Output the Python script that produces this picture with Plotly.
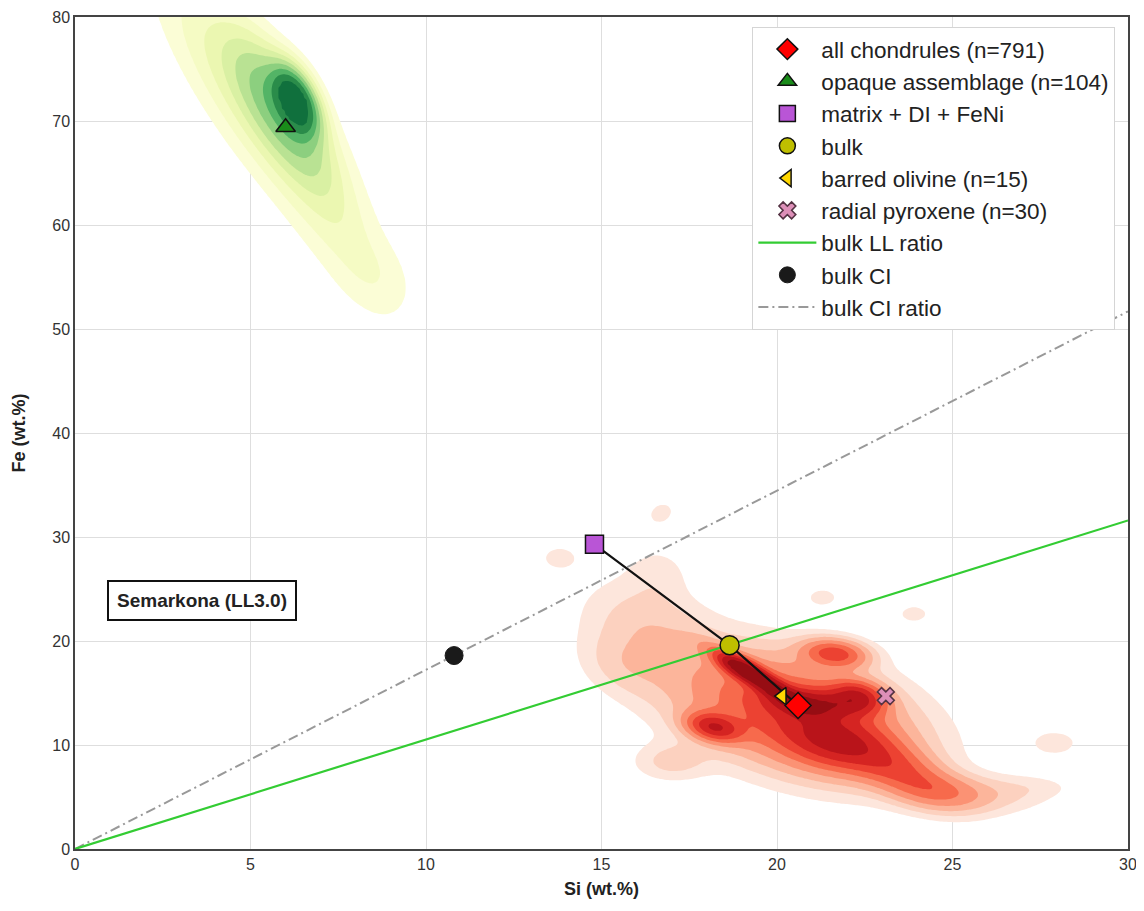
import numpy as np
import plotly.graph_objects as go

# ---------------- data ----------------
# point summaries: Si (wt.%), Fe (wt.%)
point_names = ["all chondrules (n=791)", "opaque assemblage (n=104)", "matrix + DI + FeNi",
               "bulk", "barred olivine (n=15)", "radial pyroxene (n=30)"]
point_si = [20.6, 6.0, 14.8, 18.65, 20.15, 23.1]
point_fe = [13.8, 69.4, 29.3, 19.6, 14.7, 14.7]

bulk_ci_si = [10.8]
bulk_ci_fe = [18.6]

# mixing line: matrix -> bulk -> chondrules
mix_si = [14.8, 18.65, 20.6]
mix_fe = [29.3, 19.6, 13.8]

# Fe/Si ratio lines through the origin
ll_ratio = 1.053
ci_ratio = 1.723
ratio_si = [0, 30]

# estimated density blobs of the chondrule KDE (centre Si, centre Fe, sd Si, sd Fe, corr, weight)
chd_cx = [19.5, 21.0, 22.3, 18.2, 21.65, 20.5, 21.7, 23.5, 24.7, 16.4, 17.0, 26.0, 27.4, 27.9, 13.8, 16.7, 21.3, 23.9, 15.6, 16.6, 18.9]
chd_cy = [16.3, 14.0, 14.6, 11.7, 18.8, 13.0, 10.2, 7.6, 5.4, 21.0, 8.4, 5.4, 6.0, 10.2, 28.0, 32.3, 24.2, 22.6, 17.5, 26.5, 17.6]
chd_sx = [0.75, 0.8, 0.5, 0.5, 0.6, 2.0, 1.0, 1.0, 0.9, 1.2, 0.7, 1.1, 0.8, 0.5, 0.45, 0.35, 0.4, 0.4, 0.8, 0.6, 0.4]
chd_sy = [1.6, 0.9, 1.0, 0.9, 0.9, 3.6, 1.8, 2.0, 1.2, 3.0, 1.2, 1.2, 0.8, 0.9, 1.0, 1.0, 0.8, 0.8, 2.0, 1.8, 0.8]
chd_rho = [-0.9, -0.3, -0.2, -0.3, -0.2, -0.4, -0.3, -0.6, -0.3, -0.3, 0.0, -0.2, 0.0, 0.0, 0.0, 0.2, 0.0, 0.0, -0.3, 0.0, -0.5]
chd_w = [1.0, 0.55, 0.6, 0.6, 0.45, 0.5, 0.45, 0.32, 0.17, 0.1, 0.08, 0.07, 0.03, 0.05, 0.04, 0.04, 0.04, 0.04, 0.06, 0.04, 0.4]
chd_levels = [0.02, 0.045, 0.08, 0.13, 0.2, 0.28, 0.38, 0.5, 0.66]

# estimated density blobs of the opaque-assemblage KDE
opq_cx = [6.3, 5.9, 5.0, 7.5, 8.6]
opq_cy = [72.0, 71.0, 72.0, 60.0, 55.0]
opq_sx = [0.4, 0.9, 1.5, 1.0, 0.7]
opq_sy = [2.0, 4.5, 7.0, 5.0, 2.5]
opq_rho = [-0.5, -0.75, -0.85, -0.7, -0.3]
opq_w = [1.0, 0.4, 0.15, 0.06, 0.03]
opq_levels = [0.02, 0.05, 0.09, 0.14, 0.2, 0.28, 0.38, 0.5, 0.65]

# axes
x_ticks = [0, 5, 10, 15, 20, 25, 30]
y_ticks = [0, 10, 20, 30, 40, 50, 60, 70, 80]

# ---------------- helpers ----------------
gx = np.linspace(0, 30, 301)
gy = np.linspace(0, 90, 451)
GX, GY = np.meshgrid(gx, gy)


def banded(cx, cy, sx, sy, rho, w, levels):
    z = np.zeros_like(GX)
    for a, b, s1, s2, r, ww in zip(cx, cy, sx, sy, rho, w):
        dx = (GX - a) / s1
        dy = (GY - b) / s2
        q = (dx * dx - 2 * r * dx * dy + dy * dy) / (1 - r * r)
        z += ww * np.exp(-0.5 * q)
    z = z / z.max()
    # map density to band index so that plotly's uniform contour levels hit the chosen levels
    idx = np.arange(1, len(levels) + 1, dtype=float)
    return np.interp(z, [0.0] + list(levels) + [1.0], [0.0] + list(idx) + [len(levels) + 0.5])


def stepped(colors):
    n = len(colors) - 1
    return [[i / n, c] for i, c in enumerate(colors)]


reds = ["rgba(255,255,255,0)", "#fde6dc", "#fcd1bf", "#fcb59b", "#fb9274", "#f76a4c",
        "#ec4232", "#d52422", "#b9141a", "#960d13"]
greens = ["rgba(255,255,255,0)", "#fbfdd6", "#f5fbc4", "#ebf7b1", "#d9f0a3", "#b9e293",
          "#8ccf7f", "#53b466", "#2a8c4a", "#10703d"]

fig = go.Figure()

for z, cols in [(banded(chd_cx, chd_cy, chd_sx, chd_sy, chd_rho, chd_w, chd_levels), reds),
                (banded(opq_cx, opq_cy, opq_sx, opq_sy, opq_rho, opq_w, opq_levels), greens)]:
    fig.add_trace(go.Contour(
        x=gx, y=gy, z=z,
        contours=dict(start=1, end=9, size=1, coloring="fill", showlines=False),
        colorscale=stepped(cols), showscale=False, hoverinfo="skip", line_width=0,
        showlegend=False))

dashdot = "10px,4px,2px,4px"
# ratio lines
fig.add_trace(go.Scatter(x=ratio_si, y=[ci_ratio * v for v in ratio_si], mode="lines",
                         line=dict(color="#999999", width=2, dash=dashdot),
                         showlegend=False, hoverinfo="skip"))
fig.add_trace(go.Scatter(x=ratio_si, y=[ll_ratio * v for v in ratio_si], mode="lines",
                         line=dict(color="#33cc33", width=2.2),
                         showlegend=False, hoverinfo="skip"))
# mixing line
fig.add_trace(go.Scatter(x=mix_si, y=mix_fe, mode="lines",
                         line=dict(color="#111111", width=2.2),
                         showlegend=False, hoverinfo="skip"))

symbols = ["diamond", "triangle-up", "square", "circle", "triangle-left", "x"]
fills = ["#ff0000", "#1a8c1a", "#b955d6", "#bfbf00", "#ffd700", "#dd8fb8"]
sizes = [20, 17, 18, 19, 15, 15]
edges = ["#111111", "#111111", "#111111", "#111111", "#111111", "#553344"]
for i in range(len(point_names)):
    fig.add_trace(go.Scatter(x=[point_si[i]], y=[point_fe[i]], mode="markers",
                             name=point_names[i], legendgroup="g%d" % i,
                             marker=dict(symbol=symbols[i], color=fills[i], size=sizes[i],
                                         line=dict(color=edges[i], width=1.5))))

# legend-only line for LL ratio
fig.add_trace(go.Scatter(x=[None], y=[None], mode="lines", name="bulk LL ratio", legendgroup="g6",
                         line=dict(color="#33cc33", width=2.2)))
fig.add_trace(go.Scatter(x=bulk_ci_si, y=bulk_ci_fe, mode="markers", name="bulk CI", legendgroup="g7",
                         marker=dict(symbol="circle", color="#1a1a1a", size=18,
                                     line=dict(color="#1a1a1a", width=1))))
fig.add_trace(go.Scatter(x=[None], y=[None], mode="lines", name="bulk CI ratio", legendgroup="g8",
                         line=dict(color="#999999", width=2, dash=dashdot)))

fig.add_annotation(x=3.62, y=23.9, xref="x", yref="y", text="<b>Semarkona (LL3.0)</b>",
                   showarrow=False, font=dict(size=19, color="#222222", family="Arial, Liberation Sans"),
                   bgcolor="white", bordercolor="#111111", borderwidth=2, borderpad=8)

axis_common = dict(showgrid=True, gridcolor="#dedede", gridwidth=1, zeroline=False,
                   showline=True, mirror=True, linecolor="#444444", linewidth=1.5,
                   ticks="", tickfont=dict(size=16, color="#333333"), automargin=False)

# the page body has an 8px margin, so the figure is sized/offset to land on the reference frame
fig.update_layout(
    width=1136, height=903,
    margin=dict(l=67, r=16, t=9, b=62),
    plot_bgcolor="white", paper_bgcolor="white",
    font=dict(family="Arial, Liberation Sans", color="#222222"),
    xaxis=dict(range=[0, 30], tickvals=x_ticks,
               title=dict(text="<b>Si (wt.%)</b>", font=dict(size=18), standoff=10), **axis_common),
    yaxis=dict(range=[0, 80], tickvals=y_ticks,
               title=dict(text="<b>Fe (wt.%)</b>", font=dict(size=18), standoff=22), **axis_common),
    legend=dict(x=0.988, y=0.988, xanchor="right", yanchor="top",
                bgcolor="white", bordercolor="#d5d5d5", borderwidth=1,
                font=dict(size=22.5, color="#222222"), itemsizing="trace",
                itemwidth=58, tracegroupgap=0),
)

fig.write_html("out.html")
